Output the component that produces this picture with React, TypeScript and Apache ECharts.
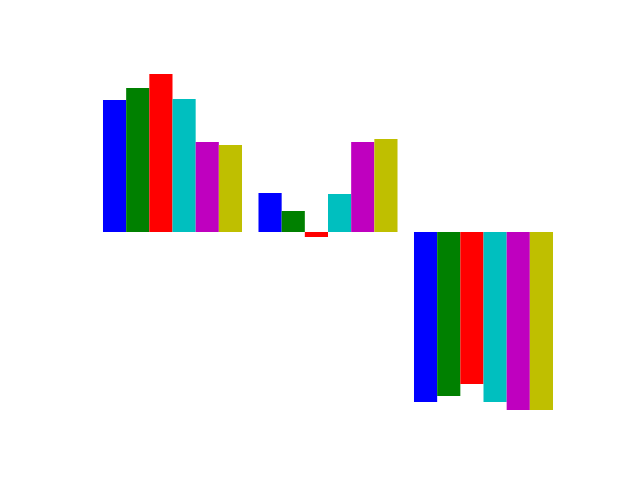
import React, { useEffect, useRef } from "react";
import * as echarts from "echarts";

const categories = ["A", "B", "C"];
const seriesNames = ["s1", "s2", "s3", "s4", "s5", "s6"];
const colors = ["#0000ff", "#008000", "#ff0000", "#00bfbf", "#bf00bf", "#bfbf00"];
const s1 = [132, 39, -170];
const s2 = [144, 21, -164];
const s3 = [158, -5, -152];
const s4 = [133, 38, -170];
const s5 = [90, 90, -178];
const s6 = [87, 93, -178];
const seriesValues = [s1, s2, s3, s4, s5, s6];

export default function App() {
  const ref = useRef<HTMLDivElement>(null);
  useEffect(() => {
    if (!ref.current) return;
    const chart = echarts.init(ref.current, null, { renderer: "svg" });
    chart.setOption({
      animation: false,
      backgroundColor: "#ffffff",
      grid: { left: 94.75, width: 466.5, top: 60, bottom: 60 },
      xAxis: {
        type: "category",
        data: categories,
        show: false,
      },
      yAxis: {
        type: "value",
        min: -188,
        max: 172,
        show: false,
      },
      series: seriesValues.map((vals, i) => ({
        name: seriesNames[i],
        type: "bar",
        data: vals,
        barWidth: 23.17,
        barGap: "0%",
        itemStyle: { color: colors[i] },
      })),
    });
    return () => chart.dispose();
  }, []);
  return <div ref={ref} style={{ width: 640, height: 480, position: "absolute", left: 0, top: 0 }} />;
}
